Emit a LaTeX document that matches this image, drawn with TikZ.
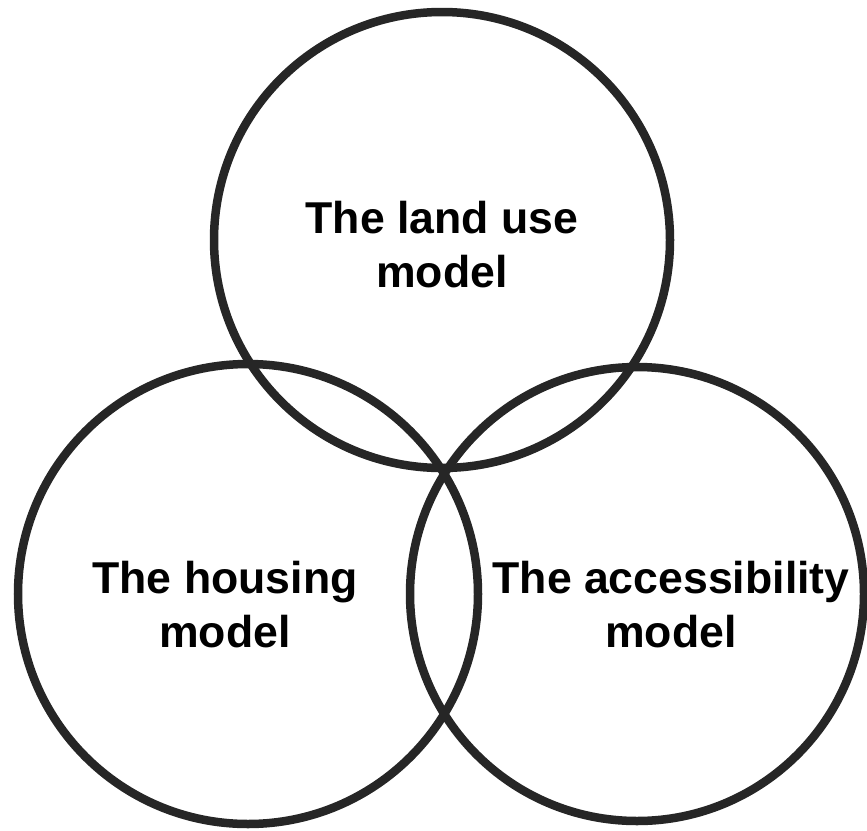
\documentclass[tikz,border=0pt]{standalone}
\usepackage{fontspec}
\setmainfont{Liberation Sans}
\definecolor{ringcol}{HTML}{262626}
\begin{document}
\begin{tikzpicture}[x=1pt,y=1pt,
  ring/.style={draw=ringcol,line width=8.5pt},
  label/.style={align=center,font=\fontsize{44.6}{54}\selectfont\bfseries,text=black,inner sep=0pt}]
\useasboundingbox (0,0) rectangle (867,-830);
\node[ring,circle,minimum size=456pt,inner sep=0pt] (top) at (442,-240) {};
\node[ring,circle,minimum size=460pt,inner sep=0pt] (left) at (248,-594) {};
\node[ring,circle,minimum size=454pt,inner sep=0pt] (right) at (637,-594) {};
\node[label] (landuse) at (442,-245) {The land use\\model};
\node[label] (housing) at (225,-605) {The housing\\model};
\node[label] (access) at (671,-605) {The accessibility\\model};
\end{tikzpicture}
\end{document}
